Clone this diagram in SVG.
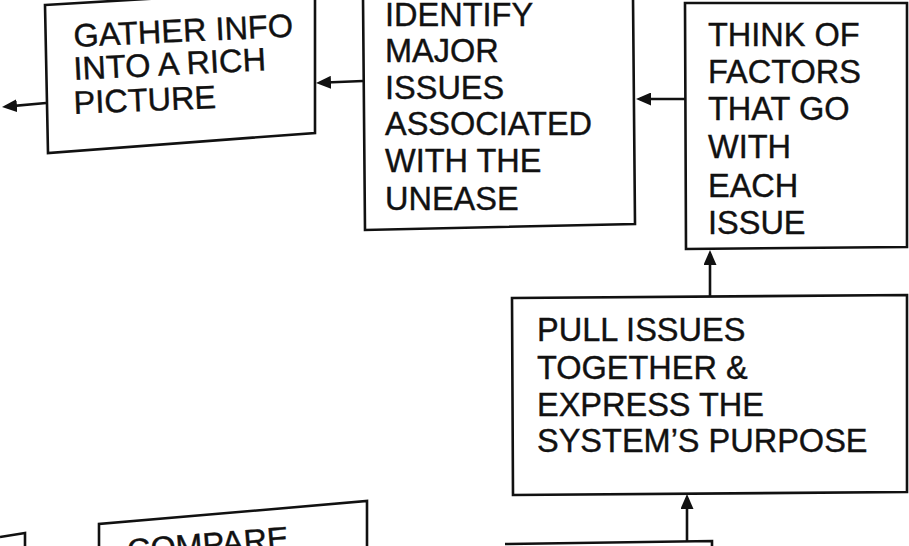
<svg xmlns="http://www.w3.org/2000/svg" width="909" height="546" viewBox="0 0 909 546">
  <style>
    .box { fill: #ffffff; stroke: #111111; stroke-width: 2.6; stroke-linejoin: miter; }
    .lbl { font-family: "Liberation Sans", Arial, sans-serif; font-size: 32.5px; fill: #111111; stroke: #111111; stroke-width: 0.4; }
    .edge { fill: none; stroke: #111111; stroke-width: 2.6; marker-end: url(#arrow); }
    .rule { fill: none; stroke: #111111; stroke-width: 2.6; }
  </style>
  <defs>
    <marker id="arrow" viewBox="0 0 15 13" refX="11" refY="6.5" markerWidth="15" markerHeight="13" markerUnits="userSpaceOnUse" orient="auto">
      <path d="M0,0 L15,6.5 L0,13 Z" fill="#111111"/>
    </marker>
  </defs>

  <rect width="909" height="546" fill="#ffffff"/>

  <!-- step: gather info -->
  <g id="gather-info">
    <polygon class="box" points="45,5 315,-11 315,133 48,153"/>
    <text class="lbl" font-size="31.5" x="74" y="47" transform="rotate(-2.7 74 47)">GATHER INFO</text>
    <text class="lbl" font-size="31.5" x="74" y="80" transform="rotate(-2.9 74 80)">INTO A RICH</text>
    <text class="lbl" font-size="31.5" x="74" y="114" transform="rotate(-2.4 74 114)">PICTURE</text>
  </g>

  <!-- step: identify major issues -->
  <g id="identify-issues">
    <polygon class="box" points="363,-3 633,-3 635,224 365,230"/>
    <text class="lbl" font-size="33" x="385">
      <tspan x="385" y="26">IDENTIFY</tspan>
      <tspan x="385" y="62">MAJOR</tspan>
      <tspan x="385" y="99">ISSUES</tspan>
      <tspan x="385" y="135">ASSOCIATED</tspan>
      <tspan x="385" y="172">WITH THE</tspan>
      <tspan x="385" y="210">UNEASE</tspan>
    </text>
  </g>

  <!-- step: think of factors -->
  <g id="think-factors">
    <polygon class="box" points="685,3 907,3 907,247 686,249"/>
    <text class="lbl" x="708">
      <tspan x="708" y="46">THINK OF</tspan>
      <tspan x="708" y="83">FACTORS</tspan>
      <tspan x="708" y="120">THAT GO</tspan>
      <tspan x="708" y="158">WITH</tspan>
      <tspan x="708" y="197">EACH</tspan>
      <tspan x="708" y="234">ISSUE</tspan>
    </text>
  </g>

  <!-- step: pull issues together -->
  <g id="pull-issues">
    <polygon class="box" points="512,298 907,295 907,492 513,495"/>
    <text class="lbl" x="537">
      <tspan x="537" y="341">PULL ISSUES</tspan>
      <tspan x="537" y="379">TOGETHER &amp;</tspan>
      <tspan x="537" y="416">EXPRESS THE</tspan>
      <tspan x="537" y="452">SYSTEM’S PURPOSE</tspan>
    </text>
  </g>

  <!-- step: compare (continues below) -->
  <g id="compare">
    <polyline class="rule" points="99,560 99,524 367,501 367,560"/>
    <text class="lbl" font-size="31" x="128" y="562" transform="rotate(-4.6 128 562)">COMPARE</text>
  </g>

  <!-- partial boxes running off the lower edge -->
  <g id="lower-left-box">
    <polyline class="rule" points="0,537 25,533 25,550"/>
  </g>
  <g id="lower-right-box">
    <polyline class="rule" points="505,544 712,541 712,550"/>
  </g>

  <!-- connectors -->
  <g id="connectors">
    <line class="edge" x1="46" y1="103" x2="6" y2="106.6"/>
    <line class="edge" x1="363" y1="81" x2="320" y2="82.8"/>
    <line class="edge" x1="685" y1="99" x2="640" y2="99"/>
    <line class="edge" x1="710" y1="297" x2="710" y2="254"/>
    <line class="edge" x1="687" y1="542" x2="687" y2="498"/>
  </g>
</svg>
